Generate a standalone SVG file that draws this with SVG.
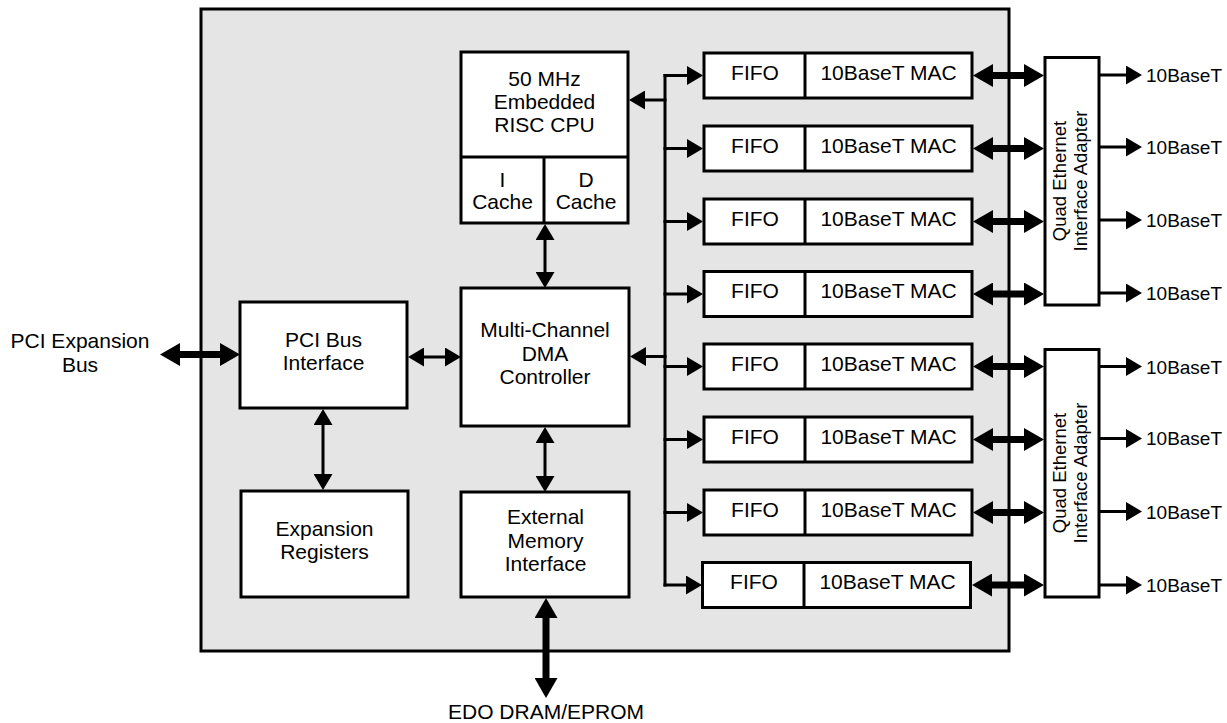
<svg xmlns="http://www.w3.org/2000/svg" width="1227" height="723" viewBox="0 0 1227 723">
<defs>
<style>
.box{fill:#fff;stroke:#000;stroke-width:3}
.t{font-family:"Liberation Sans",Arial,sans-serif;font-size:21px;fill:#000;text-anchor:middle}
.s{font-family:"Liberation Sans",Arial,sans-serif;font-size:18.5px;fill:#000}
.b{font-family:"Liberation Sans",Arial,sans-serif;font-size:19px;fill:#000}
.thin{stroke:#000;stroke-width:3;fill:none}
.thick{stroke:#000;stroke-width:7;fill:none}
.a{marker-end:url(#ah)}
.aa{marker-start:url(#ah);marker-end:url(#ah)}
.tt{marker-start:url(#th);marker-end:url(#th)}
</style>
<marker id="ah" markerUnits="userSpaceOnUse" markerWidth="16" markerHeight="19" refX="8" refY="9.5" orient="auto-start-reverse" viewBox="0 0 16 19"><path d="M0,0 L16,9.5 L0,19 z" fill="#000"/></marker>
<marker id="th" markerUnits="userSpaceOnUse" markerWidth="20" markerHeight="23" refX="10" refY="11.5" orient="auto-start-reverse" viewBox="0 0 20 23"><path d="M0,0 L20,11.5 L0,23 z" fill="#000"/></marker>
</defs>
<rect width="1227" height="723" fill="#fff"/>
<g id="chip"><rect x="201" y="9" width="808" height="642" fill="#e5e5e5" stroke="#000" stroke-width="3"/></g>

<g id="cpu">
<rect class="box" x="461" y="52" width="167" height="171"/>
<line class="thin" x1="461" y1="157" x2="628" y2="157"/>
<line class="thin" x1="544" y1="157" x2="544" y2="223"/>
<text class="t" x="544.5" y="85.5">50 MHz</text>
<text class="t" x="544.5" y="108.5">Embedded</text>
<text class="t" x="544.5" y="131.5">RISC CPU</text>
<text class="t" x="502.5" y="187">I</text>
<text class="t" x="502.5" y="209">Cache</text>
<text class="t" x="586" y="187">D</text>
<text class="t" x="586" y="209">Cache</text>
</g>
<g id="dma">
<rect class="box" x="461" y="288" width="168" height="138"/>
<text class="t" x="545" y="336.5">Multi-Channel</text>
<text class="t" x="545" y="360.5">DMA</text>
<text class="t" x="545" y="384">Controller</text>
</g>
<g id="extmem">
<rect class="box" x="461" y="492" width="168" height="105"/>
<text class="t" x="545.5" y="524">External</text>
<text class="t" x="545.5" y="547.5">Memory</text>
<text class="t" x="545.5" y="570.5">Interface</text>
</g>
<g id="pci">
<rect class="box" x="240" y="302" width="167" height="106"/>
<text class="t" x="323.5" y="346.5">PCI Bus</text>
<text class="t" x="323.5" y="370">Interface</text>
</g>
<g id="expreg">
<rect class="box" x="241" y="491" width="167" height="106"/>
<text class="t" x="324.5" y="535.5">Expansion</text>
<text class="t" x="324.5" y="559">Registers</text>
</g>

<g id="mac1"><rect class="box" x="704" y="53" width="268" height="45"/><line class="thin" x1="805" y1="53" x2="805" y2="98"/><text class="t" x="755" y="80">FIFO</text><text class="t" x="888.5" y="80">10BaseT MAC</text></g>
<g id="mac2"><rect class="box" x="704" y="126" width="268" height="45"/><line class="thin" x1="805" y1="126" x2="805" y2="171"/><text class="t" x="755" y="152.5">FIFO</text><text class="t" x="888.5" y="152.5">10BaseT MAC</text></g>
<g id="mac3"><rect class="box" x="704" y="199" width="268" height="45"/><line class="thin" x1="805" y1="199" x2="805" y2="244"/><text class="t" x="755" y="225.5">FIFO</text><text class="t" x="888.5" y="225.5">10BaseT MAC</text></g>
<g id="mac4"><rect class="box" x="704" y="271.5" width="268" height="45"/><line class="thin" x1="805" y1="271.5" x2="805" y2="316.5"/><text class="t" x="755" y="298">FIFO</text><text class="t" x="888.5" y="298">10BaseT MAC</text></g>
<g id="mac5"><rect class="box" x="704" y="344" width="268" height="45"/><line class="thin" x1="805" y1="344" x2="805" y2="389"/><text class="t" x="755" y="370.5">FIFO</text><text class="t" x="888.5" y="370.5">10BaseT MAC</text></g>
<g id="mac6"><rect class="box" x="704" y="417" width="268" height="45"/><line class="thin" x1="805" y1="417" x2="805" y2="462"/><text class="t" x="755" y="443.5">FIFO</text><text class="t" x="888.5" y="443.5">10BaseT MAC</text></g>
<g id="mac7"><rect class="box" x="704" y="490" width="268" height="45"/><line class="thin" x1="805" y1="490" x2="805" y2="535"/><text class="t" x="755" y="516.5">FIFO</text><text class="t" x="888.5" y="516.5">10BaseT MAC</text></g>
<g id="mac8"><rect class="box" x="702.5" y="562.5" width="268" height="45"/><line class="thin" x1="804" y1="562.5" x2="804" y2="607.5"/><text class="t" x="754" y="589">FIFO</text><text class="t" x="887.5" y="589">10BaseT MAC</text></g>

<g id="quad1">
<rect class="box" x="1045" y="57.5" width="54" height="247.5"/>
<text class="s" text-anchor="middle" transform="translate(1072,181) rotate(-90)"><tspan x="0" y="-6">Quad Ethernet</tspan><tspan x="0" y="15">Interface Adapter</tspan></text>
</g>
<g id="quad2">
<rect class="box" x="1045" y="349.5" width="54" height="247.5"/>
<text class="s" text-anchor="middle" transform="translate(1072,473) rotate(-90)"><tspan x="0" y="-6">Quad Ethernet</tspan><tspan x="0" y="15">Interface Adapter</tspan></text>
</g>

<g id="labels">
<text class="t" x="80" y="348">PCI Expansion</text>
<text class="t" x="80" y="371.5">Bus</text>
<text class="t" x="546" y="719">EDO DRAM/EPROM</text>
<text class="b" x="1146" y="81.5">10BaseT</text>
<text class="b" x="1146" y="154">10BaseT</text>
<text class="b" x="1146" y="227">10BaseT</text>
<text class="b" x="1146" y="300">10BaseT</text>
<text class="b" x="1146" y="373.5">10BaseT</text>
<text class="b" x="1146" y="445">10BaseT</text>
<text class="b" x="1146" y="518.5">10BaseT</text>
<text class="b" x="1146" y="591.5">10BaseT</text>
</g>

<g id="connectors">
<line class="thick tt" x1="170" y1="354.5" x2="230" y2="354.5"/>
<line class="thick tt" x1="546" y1="608" x2="546" y2="688"/>
<line class="thin aa" x1="416" y1="357" x2="453" y2="357"/>
<line class="thin aa" x1="323" y1="417" x2="323" y2="482"/>
<line class="thin aa" x1="545" y1="232" x2="545" y2="280"/>
<line class="thin aa" x1="545" y1="435" x2="545" y2="484"/>
<line class="thin" x1="665" y1="74" x2="665" y2="586.5"/>
<line class="thin a" x1="666.5" y1="100" x2="637" y2="100"/>
<line class="thin a" x1="666.5" y1="356.5" x2="638" y2="356.5"/>
<line class="thin a" x1="663.5" y1="75.5" x2="695" y2="75.5"/>
<line class="thin a" x1="663.5" y1="148.5" x2="695" y2="148.5"/>
<line class="thin a" x1="663.5" y1="221.5" x2="695" y2="221.5"/>
<line class="thin a" x1="663.5" y1="294" x2="695" y2="294"/>
<line class="thin a" x1="663.5" y1="366.5" x2="695" y2="366.5"/>
<line class="thin a" x1="663.5" y1="439.5" x2="695" y2="439.5"/>
<line class="thin a" x1="663.5" y1="512.5" x2="695" y2="512.5"/>
<line class="thin a" x1="663.5" y1="585" x2="694" y2="585"/>
<line class="thick tt" x1="983" y1="75.5" x2="1034" y2="75.5"/>
<line class="thick tt" x1="983" y1="148.5" x2="1034" y2="148.5"/>
<line class="thick tt" x1="983" y1="221.5" x2="1034" y2="221.5"/>
<line class="thick tt" x1="983" y1="294" x2="1034" y2="294"/>
<line class="thick tt" x1="983" y1="366.5" x2="1034" y2="366.5"/>
<line class="thick tt" x1="983" y1="439.5" x2="1034" y2="439.5"/>
<line class="thick tt" x1="983" y1="512.5" x2="1034" y2="512.5"/>
<line class="thick tt" x1="982" y1="585" x2="1034" y2="585"/>
<line class="thin a" x1="1099" y1="75" x2="1134" y2="75"/>
<line class="thin a" x1="1099" y1="147" x2="1134" y2="147"/>
<line class="thin a" x1="1099" y1="220" x2="1134" y2="220"/>
<line class="thin a" x1="1099" y1="293" x2="1134" y2="293"/>
<line class="thin a" x1="1099" y1="366.5" x2="1134" y2="366.5"/>
<line class="thin a" x1="1099" y1="438.5" x2="1134" y2="438.5"/>
<line class="thin a" x1="1099" y1="511.5" x2="1134" y2="511.5"/>
<line class="thin a" x1="1099" y1="585" x2="1134" y2="585"/>
</g>
</svg>
